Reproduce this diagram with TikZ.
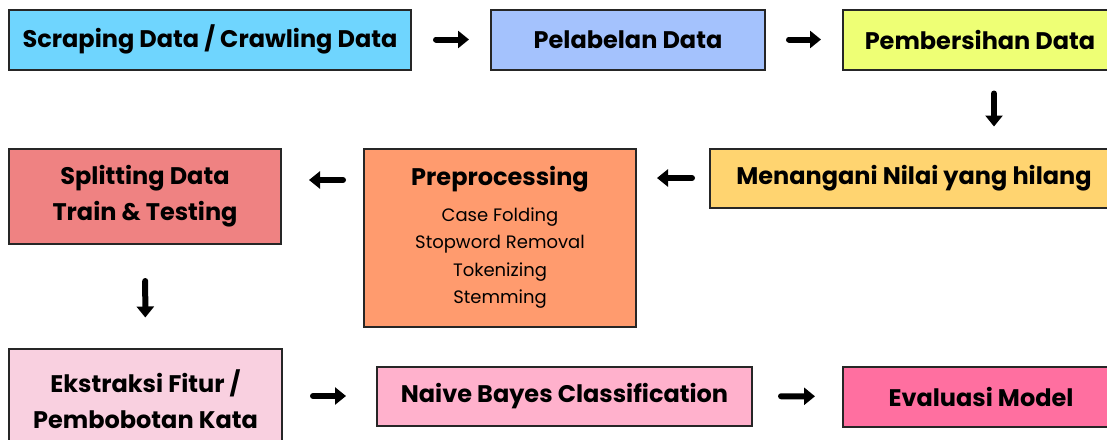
\documentclass[tikz,border=0pt]{standalone}
\usepackage{fontspec}
\setmainfont{Poppins}[BoldFont={Poppins Bold}]
\usetikzlibrary{arrows.meta}

\definecolor{cscr}{HTML}{6FD5FE}
\definecolor{cpel}{HTML}{A4C2FD}
\definecolor{cpem}{HTML}{EEFF75}
\definecolor{cmen}{HTML}{FFD470}
\definecolor{cpre}{HTML}{FF9B6E}
\definecolor{cspl}{HTML}{EF8282}
\definecolor{ceks}{HTML}{F9D0E0}
\definecolor{cnai}{HTML}{FFB1CC}
\definecolor{ceva}{HTML}{FF6FA0}

\begin{document}
\begin{tikzpicture}[x=1pt,y=-1pt,
  stepbox/.style={draw=black!85,line width=2pt,minimum height=60pt,align=center,
    inner sep=0pt,font=\bfseries\fontsize{24}{36}\selectfont},
  arr/.style={line width=6pt,line cap=round,-{Triangle[length=11pt,width=17pt]}}]
\useasboundingbox (0,0) rectangle (1107,439);
\clip (0,0) rectangle (1107,439);
\node[stepbox,fill=cscr,minimum width=402pt] (scr) at (210,39.5) {Scraping Data / Crawling Data};
\node[stepbox,fill=cpel,minimum width=274pt] (pel) at (628,39.5) {Pelabelan Data};
\node[stepbox,fill=cpem,minimum width=274pt] (pem) at (980,39.5) {Pembersihan Data};
\node[stepbox,fill=cmen,minimum width=408pt,minimum height=59pt] (men) at (914,178) {Menangani Nilai yang hilang};
\node[stepbox,fill=cpre,minimum width=272pt,minimum height=178pt,font=\fontsize{18}{27.5}\selectfont] (pre) at (500,237.5)
  {{\bfseries\fontsize{24}{28}\selectfont Preprocessing}\\[8pt] Case Folding\\ Stopword Removal\\ Tokenizing\\ Stemming};
\node[stepbox,fill=cspl,minimum width=272pt,minimum height=95pt] (spl) at (145,196.5) {Splitting Data\\ Train \& Testing};
\node[stepbox,fill=ceks,minimum width=273pt,minimum height=101pt] (eks) at (145.5,399) {Ekstraksi Fitur /\\ Pembobotan Kata};
\node[stepbox,fill=cnai,minimum width=375pt,minimum height=59pt] (nai) at (564.5,396) {Naive Bayes Classification};
\node[stepbox,fill=ceva,minimum width=276pt] (eva) at (981,396.5) {Evaluasi Model};

\draw[arr,shorten <=24pt,shorten >=21pt] (scr) -- (pel);
\draw[arr,shorten <=23pt,shorten >=21pt] (pel) -- (pem);
\draw[arr,shorten <=23pt,shorten >=21pt] ([xshift=14pt]pem.south) -- ([xshift=14pt]pem.south |- men.north);
\draw[arr,shorten <=17pt,shorten >=20pt] (men.west) -- (men.west -| pre.east);
\draw[arr,shorten <=20pt,shorten >=27pt] ([yshift=-2pt]pre.west |- men.west) -- ([yshift=-2pt]spl.east |- men.west);
\draw[arr,shorten <=36pt,shorten >=30pt] (spl) -- (eks);
\draw[arr,shorten <=30pt,shorten >=30pt] (eks.east |- nai.west) -- (nai.west);
\draw[arr,shorten <=28pt,shorten >=27pt] (nai) -- (eva);
\end{tikzpicture}
\end{document}
